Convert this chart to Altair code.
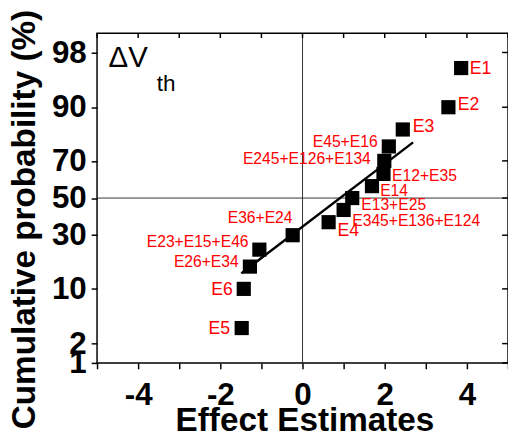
import altair as alt
import pandas as pd
from statistics import NormalDist

nd = NormalDist()

# ---- data ----
labels = ["E1", "E2", "E3", "E45+E16", "E245+E126+E134", "E12+E35", "E14",
          "E13+E25", "E345+E136+E124", "E4", "E36+E24", "E23+E15+E46",
          "E26+E34", "E6", "E5"]
effect = [3.86, 3.55, 2.44, 2.10, 1.99, 1.97, 1.69, 1.21, 1.00, 0.635,
          -0.24, -1.05, -1.28, -1.43, -1.48]
prob = [96.67, 90.0, 83.33, 76.67, 70.0, 63.33, 56.67, 50.0, 43.33, 36.67,
        30.0, 23.33, 16.67, 10.0, 3.33]
# label anchor positions (left edge / baseline) in data units
label_x = [4.07, 3.78, 2.68, 0.25, -1.45, 2.18, 1.89, 1.43, 1.21, 0.85,
           -1.82, -3.79, -3.13, -2.22, -2.29]
label_p = [96.0, 89.35, 82.35, 76.3, 68.7, 59.3, 51.1, 43.05, 34.6, 29.4,
           36.35, 24.4, 16.6, 8.67, 2.74]

fit_x = [-1.49, 2.69]
fit_p = [14.4, 78.4]

x_ticks = [-5, -4, -3, -2, -1, 0, 1, 2, 3, 4, 5]
y_ticks_pct = [1, 2, 10, 30, 50, 70, 90, 98]

ann_text = ["ΔV", "th"]
ann_x = [-4.72, -3.55]
ann_p = [96.74, 93.5]

# ---- frames ----
def z(p):
    return nd.inv_cdf(p / 100.0)

pts = pd.DataFrame({
    "label": labels, "x": effect, "p": prob,
    "z": [z(v) for v in prob],
    "lx": label_x, "lz": [z(v) for v in label_p],
    "single": [len(l) <= 2 for l in labels],
})
fit = pd.DataFrame({"x": fit_x, "z": [z(v) for v in fit_p]})
xt = pd.DataFrame({"x": x_ticks})
yt_z = [z(v) for v in y_ticks_pct]
yt = pd.DataFrame({"z": yt_z})
ann = pd.DataFrame({"t": ann_text, "x": ann_x, "z": [z(v) for v in ann_p]})

W, H = 420, 337
FONT = "Liberation Sans"

xscale = alt.Scale(domain=[-5, 5], nice=False, zero=False)
yscale = alt.Scale(domain=[z(1), z(99)], nice=False, zero=False)

xaxis = alt.Axis(
    values=x_ticks,
    labelExpr="datum.value % 2 == 0 ? '' + datum.value : ''",
    tickSize=6, tickWidth=1.5, tickColor="black", domain=False, grid=False,
    labelPadding=11, labelFlush=False, labelOverlap=False,
    labelFont=FONT, labelFontWeight="bold", labelFontSize=32, labelColor="black",
    titleFont=FONT, titleFontWeight="bold", titleFontSize=34, titleColor="black",
    title="Effect Estimates", titleX=212, titleY=69,
    titleBaseline="alphabetic", titleAlign="center",
)
yaxis = alt.Axis(
    values=yt_z,
    labelExpr="'' + round(cumulativeNormal(datum.value) * 100)",
    tickSize=6, tickWidth=1.5, tickColor="black", domain=False, grid=False,
    labelPadding=5, labelOverlap=False, labelBound=False, labelFlush=False,
    labelFont=FONT, labelFontWeight="bold", labelFontSize=32, labelColor="black",
    titleFont=FONT, titleFontWeight="bold", titleFontSize=34, titleColor="black",
    title="Cumulative probability (%)", titleX=-64, titleY=190,
    titleBaseline="alphabetic", titleAlign="center", titleAngle=270,
)

X = lambda f: alt.X(f, scale=xscale, axis=xaxis)
Y = lambda f: alt.Y(f, scale=yscale, axis=yaxis)

hline = alt.Chart(pd.DataFrame({"z": [0.0]})).mark_rule(
    color="#333333", strokeWidth=1).encode(y=Y("z:Q"))
vline = alt.Chart(pd.DataFrame({"x": [0.0]})).mark_rule(
    color="#333333", strokeWidth=1).encode(x=X("x:Q"))

top_ticks = alt.Chart(xt).mark_rule(color="black", strokeWidth=1.5).encode(
    x=X("x:Q"), y=alt.value(0), y2=alt.value(5))
right_ticks = alt.Chart(yt).mark_rule(color="black", strokeWidth=1.5).encode(
    y=Y("z:Q"), x=alt.value(W - 6), x2=alt.value(W))

line = alt.Chart(fit).mark_line(color="black", strokeWidth=2.5).encode(
    x=X("x:Q"), y=Y("z:Q"))

points = alt.Chart(pts).mark_square(size=210, color="black", opacity=1).encode(
    x=X("x:Q"), y=Y("z:Q"))

lab_single = alt.Chart(pts).transform_filter("datum.single").mark_text(
    align="left", baseline="alphabetic", font=FONT, fontSize=18, color="#ff0000"
).encode(x=X("lx:Q"), y=Y("lz:Q"), text="label:N")
lab_combo = alt.Chart(pts).transform_filter("!datum.single").mark_text(
    align="left", baseline="alphabetic", font=FONT, fontSize=16, color="#ff0000"
).encode(x=X("lx:Q"), y=Y("lz:Q"), text="label:N")

ann_big = alt.Chart(ann).transform_filter("datum.t != 'th'").mark_text(
    align="left", baseline="alphabetic", font=FONT, fontSize=30, color="black"
).encode(x=X("x:Q"), y=Y("z:Q"), text="t:N")
ann_sub = alt.Chart(ann).transform_filter("datum.t == 'th'").mark_text(
    align="left", baseline="alphabetic", font=FONT, fontSize=23, color="black"
).encode(x=X("x:Q"), y=Y("z:Q"), text="t:N")

chart = alt.layer(
    hline, vline, top_ticks, right_ticks, line, points,
    lab_single, lab_combo, ann_big, ann_sub
).properties(
    width=W, height=H,
    autosize=alt.AutoSizeParams(type="none"),
    padding={"left": 91, "top": 21, "right": 0, "bottom": 72},
).configure_view(
    stroke="black", strokeWidth=1.5
)

chart.save("out.html", embed_options={"renderer": "svg", "actions": False})
